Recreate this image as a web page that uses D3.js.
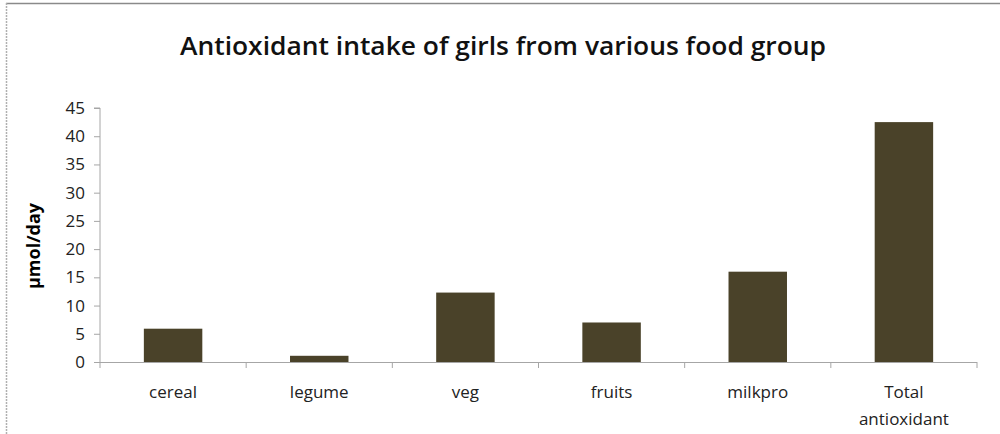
<!DOCTYPE html>
<html>
  <head>
    <meta charset="utf-8">
    <title>Antioxidant intake</title>
    <script src="https://d3js.org/d3.v7.min.js"></script>
    <style>
      body { margin: 0; background: #fff; }
    </style>
  </head>
  <body>
    <script>
      // data
      const categories = ["cereal", "legume", "veg", "fruits", "milkpro", "Total antioxidant"];
      const values = [5.9, 1.1, 12.3, 7.0, 16.0, 42.5];
      const yTicks = [0, 5, 10, 15, 20, 25, 30, 35, 40, 45];

      const width = 1000;
      const height = 434;
      const plotLeft = 100, plotRight = 977, plotTop = 108, plotBottom = 362;
      const font = "'Open Sans', 'Noto Sans', sans-serif";

      const svg = d3.select("body")
        .append("svg")
          .attr("width", width)
          .attr("height", height);

      // frame: top line and dotted left edge
      svg.append("line")
        .attr("x1", 6).attr("x2", width).attr("y1", 3.5).attr("y2", 3.5)
        .attr("stroke", "#8a8a8a").attr("stroke-width", 1.5);
      svg.append("line")
        .attr("x1", 6.5).attr("x2", 6.5).attr("y1", 3).attr("y2", height)
        .attr("stroke", "#b0b0b0").attr("stroke-width", 1.5)
        .attr("stroke-dasharray", "2,1");

      svg.append("text")
        .attr("x", 503).attr("y", 55)
        .attr("text-anchor", "middle")
        .style("font-family", font)
        .style("font-weight", "600")
        .style("font-size", "25px")
        .attr("fill", "#111")
        .attr("textLength", 646)
        .attr("lengthAdjust", "spacingAndGlyphs")
        .text("Antioxidant intake of girls from various food group");

      const xScale = d3.scaleBand()
        .domain(categories)
        .range([plotLeft, plotRight])
        .paddingInner(0.6)
        .paddingOuter(0.3);

      const yScale = d3.scaleLinear()
        .domain([0, 45])
        .range([plotBottom, plotTop]);

      // y axis
      const yAxis = d3.axisLeft(yScale)
        .tickValues(yTicks)
        .tickSize(6)
        .tickPadding(9);
      const gy = svg.append("g")
        .attr("transform", "translate(" + plotLeft + ",0)")
        .call(yAxis);
      gy.select(".domain").attr("stroke", "#a6a6a6").attr("d", "M-6," + plotTop + "H0V" + plotBottom);
      gy.selectAll(".tick line").attr("stroke", "#a6a6a6");
      gy.selectAll(".tick text")
        .style("font-family", font)
        .style("font-size", "17px")
        .attr("fill", "#222");

      // bars
      svg.selectAll("rect.bar")
        .data(values)
        .enter().append("rect")
          .attr("class", "bar")
          .attr("x", (d, i) => xScale(categories[i]))
          .attr("y", d => yScale(d))
          .attr("width", xScale.bandwidth())
          .attr("height", d => yScale(0) - yScale(d))
          .attr("fill", "#4a4229");

      // x axis with ticks between categories
      const step = (plotRight - plotLeft) / categories.length;
      const xAxisG = svg.append("g");
      xAxisG.append("line")
        .attr("x1", plotLeft).attr("x2", plotRight)
        .attr("y1", plotBottom + 0.5).attr("y2", plotBottom + 0.5)
        .attr("stroke", "#a6a6a6");
      xAxisG.selectAll("line.tk")
        .data(d3.range(categories.length + 1))
        .enter().append("line")
          .attr("class", "tk")
          .attr("x1", i => plotLeft + i * step).attr("x2", i => plotLeft + i * step)
          .attr("y1", plotBottom).attr("y2", plotBottom + 6)
          .attr("stroke", "#a6a6a6");

      const labels = svg.selectAll("text.xl")
        .data(categories)
        .enter().append("text")
          .attr("class", "xl")
          .attr("text-anchor", "middle")
          .attr("x", d => xScale(d) + xScale.bandwidth() / 2)
          .attr("y", 398)
          .style("font-family", font)
          .style("font-size", "17px")
          .attr("fill", "#222");
      labels.each(function(d) {
        const words = d === "Total antioxidant" ? ["Total", "antioxidant"] : [d];
        const t = d3.select(this);
        words.forEach((w, j) => {
          t.append("tspan")
            .attr("x", t.attr("x"))
            .attr("dy", j === 0 ? 0 : 27)
            .text(w);
        });
      });

      // y axis title
      svg.append("text")
        .attr("transform", "translate(40,246) rotate(-90)")
        .attr("text-anchor", "middle")
        .style("font-family", font)
        .style("font-weight", "bold")
        .style("font-size", "18px")
        .text("µmol/day");
    </script>
  </body>
</html>
